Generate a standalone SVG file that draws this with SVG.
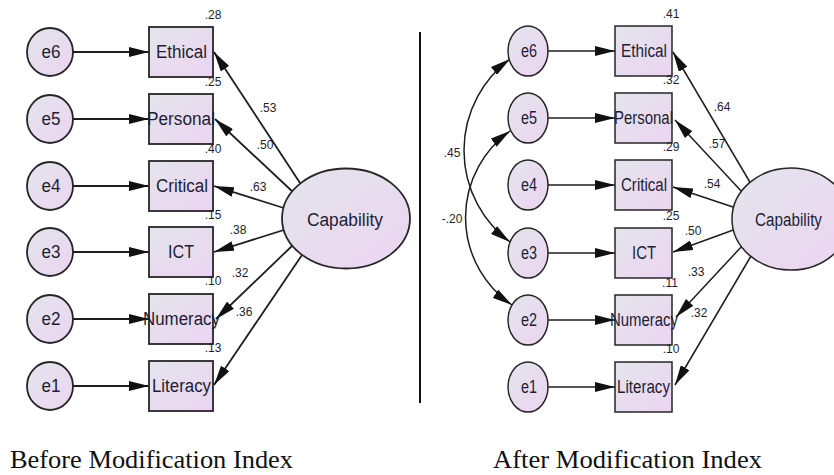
<svg xmlns="http://www.w3.org/2000/svg" width="834" height="475" viewBox="0 0 834 475">
<style>
.shape{stroke:#262626;stroke-width:1.8}
.fill{fill:url(#g)}
.lbl{font-family:"Liberation Sans",Arial,sans-serif;font-size:18px;fill:#1e1e34;text-anchor:middle}
.num{font-family:"Liberation Sans",Arial,sans-serif;font-size:12px;fill:#1e1e2e;text-anchor:middle}
.cap{font-family:"Liberation Serif","Times New Roman",serif;font-size:26px;fill:#111}
.con{stroke:#1e1e1e;stroke-width:1.8;fill:none}
.r{stroke-width:1.5}
.a{marker-end:url(#ah)}
.b{marker-start:url(#ah);marker-end:url(#ah)}
</style>
<defs>
<linearGradient id="g" x1="0" y1="0" x2="1" y2="1">
<stop offset="0" stop-color="#e3e5ec"/>
<stop offset="1" stop-color="#ecd4f1"/>
</linearGradient>
<marker id="ah" markerUnits="userSpaceOnUse" markerWidth="20" markerHeight="10" refX="20" refY="5" orient="auto-start-reverse">
<path d="M0,0 L20,5 L0,10 z" fill="#111"/>
</marker>
</defs>

<g id="connectors">
<!-- left: error arrows -->
<line class="con a" x1="73" y1="52" x2="149" y2="52"/>
<line class="con a" x1="73" y1="119" x2="149" y2="119"/>
<line class="con a" x1="73" y1="186" x2="149" y2="186"/>
<line class="con a" x1="73" y1="252" x2="149" y2="252"/>
<line class="con a" x1="73" y1="319" x2="149" y2="319"/>
<line class="con a" x1="73" y1="386" x2="149" y2="386"/>
<!-- left: loadings -->
<line class="con a" x1="302" y1="186" x2="214" y2="52"/>
<line class="con a" x1="294" y1="193" x2="215" y2="119"/>
<line class="con a" x1="287" y1="209" x2="214" y2="186"/>
<line class="con a" x1="287" y1="229" x2="214" y2="252"/>
<line class="con a" x1="293" y1="245" x2="216" y2="319"/>
<line class="con a" x1="302" y1="255" x2="214" y2="385"/>
<!-- right: error arrows -->
<line class="con r a" x1="548" y1="51" x2="615" y2="51"/>
<line class="con r a" x1="548" y1="118" x2="615" y2="118"/>
<line class="con r a" x1="548" y1="185" x2="615" y2="185"/>
<line class="con r a" x1="548" y1="253" x2="615" y2="253"/>
<line class="con r a" x1="548" y1="320" x2="615" y2="320"/>
<line class="con r a" x1="548" y1="387" x2="615" y2="387"/>
<!-- right: loadings -->
<line class="con r a" x1="751" y1="184" x2="673" y2="52"/>
<line class="con r a" x1="743" y1="193" x2="675" y2="120"/>
<line class="con r a" x1="736" y1="208" x2="673" y2="187"/>
<line class="con r a" x1="736" y1="229" x2="673" y2="252"/>
<line class="con r a" x1="743" y1="245" x2="676" y2="317"/>
<line class="con r a" x1="751" y1="256" x2="675" y2="385"/>
<!-- right: covariances -->
<path class="con r b" d="M510 59 A114 114 0 0 0 510 242"/>
<path class="con r b" d="M510 131 A106 106 0 0 0 512 305"/>
</g>

<line x1="420" y1="32" x2="420" y2="403" stroke="#111" stroke-width="2"/>

<!-- left nodes -->
<g id="L_e6"><ellipse class="shape fill" cx="50" cy="52" rx="23" ry="24"/><text class="lbl" x="51" y="58" textLength="19" lengthAdjust="spacingAndGlyphs">e6</text></g>
<g id="L_e5"><ellipse class="shape fill" cx="50" cy="119" rx="23" ry="24"/><text class="lbl" x="51" y="125" textLength="19" lengthAdjust="spacingAndGlyphs">e5</text></g>
<g id="L_e4"><ellipse class="shape fill" cx="50" cy="186" rx="23" ry="24"/><text class="lbl" x="51" y="192" textLength="19" lengthAdjust="spacingAndGlyphs">e4</text></g>
<g id="L_e3"><ellipse class="shape fill" cx="50" cy="252" rx="23" ry="24"/><text class="lbl" x="51" y="258" textLength="19" lengthAdjust="spacingAndGlyphs">e3</text></g>
<g id="L_e2"><ellipse class="shape fill" cx="50" cy="319" rx="23" ry="24"/><text class="lbl" x="51" y="325" textLength="19" lengthAdjust="spacingAndGlyphs">e2</text></g>
<g id="L_e1"><ellipse class="shape fill" cx="50" cy="386" rx="23" ry="24"/><text class="lbl" x="51" y="392" textLength="19" lengthAdjust="spacingAndGlyphs">e1</text></g>

<g id="L_Ethical"><rect class="shape fill" x="149" y="27" width="64" height="50"/><text class="lbl" x="181.5" y="58" textLength="51" lengthAdjust="spacingAndGlyphs">Ethical</text></g>
<g id="L_Personal"><rect class="shape fill" x="149" y="94" width="64" height="50"/><text class="lbl" x="181" y="125" textLength="68" lengthAdjust="spacingAndGlyphs">Personal</text></g>
<g id="L_Critical"><rect class="shape fill" x="149" y="161" width="64" height="50"/><text class="lbl" x="182" y="192" textLength="52" lengthAdjust="spacingAndGlyphs">Critical</text></g>
<g id="L_ICT"><rect class="shape fill" x="149" y="227" width="64" height="50"/><text class="lbl" x="181" y="258" textLength="26" lengthAdjust="spacingAndGlyphs">ICT</text></g>
<g id="L_Numeracy"><rect class="shape fill" x="149" y="294" width="64" height="50"/><text class="lbl" x="181.5" y="325" textLength="77" lengthAdjust="spacingAndGlyphs">Numeracy</text></g>
<g id="L_Literacy"><rect class="shape fill" x="149" y="361" width="64" height="50"/><text class="lbl" x="181.5" y="392" textLength="59" lengthAdjust="spacingAndGlyphs">Literacy</text></g>

<g id="L_Capability"><ellipse class="shape fill" cx="346" cy="218.5" rx="64" ry="50"/><text class="lbl" x="345" y="226" textLength="76" lengthAdjust="spacingAndGlyphs">Capability</text></g>

<!-- left numbers -->
<g id="L_numbers">
<text class="num" x="213" y="19">.28</text>
<text class="num" x="213" y="86">.25</text>
<text class="num" x="213" y="153">.40</text>
<text class="num" x="213" y="219">.15</text>
<text class="num" x="213" y="285">.10</text>
<text class="num" x="213" y="352">.13</text>
<text class="num" x="268" y="112">.53</text>
<text class="num" x="265" y="149">.50</text>
<text class="num" x="258" y="191">.63</text>
<text class="num" x="238" y="234">.38</text>
<text class="num" x="240" y="277">.32</text>
<text class="num" x="244" y="316">.36</text>
</g>

<!-- right nodes -->
<g id="R_e6"><ellipse class="shape r fill" cx="528" cy="51" rx="20" ry="25"/><text class="lbl" x="529" y="57" textLength="16" lengthAdjust="spacingAndGlyphs">e6</text></g>
<g id="R_e5"><ellipse class="shape r fill" cx="528" cy="118" rx="20" ry="25"/><text class="lbl" x="529" y="124" textLength="16" lengthAdjust="spacingAndGlyphs">e5</text></g>
<g id="R_e4"><ellipse class="shape r fill" cx="528" cy="185" rx="20" ry="25"/><text class="lbl" x="529" y="191" textLength="16" lengthAdjust="spacingAndGlyphs">e4</text></g>
<g id="R_e3"><ellipse class="shape r fill" cx="528" cy="253" rx="20" ry="25"/><text class="lbl" x="529" y="259" textLength="16" lengthAdjust="spacingAndGlyphs">e3</text></g>
<g id="R_e2"><ellipse class="shape r fill" cx="528" cy="320" rx="20" ry="25"/><text class="lbl" x="529" y="326" textLength="16" lengthAdjust="spacingAndGlyphs">e2</text></g>
<g id="R_e1"><ellipse class="shape r fill" cx="528" cy="387" rx="20" ry="25"/><text class="lbl" x="529" y="393" textLength="16" lengthAdjust="spacingAndGlyphs">e1</text></g>

<g id="R_Ethical"><rect class="shape r fill" x="615" y="26" width="57" height="50"/><text class="lbl" x="644" y="57" textLength="46" lengthAdjust="spacingAndGlyphs">Ethical</text></g>
<g id="R_Personal"><rect class="shape r fill" x="615" y="93" width="57" height="50"/><text class="lbl" x="643.5" y="124" textLength="59" lengthAdjust="spacingAndGlyphs">Personal</text></g>
<g id="R_Critical"><rect class="shape r fill" x="615" y="160" width="57" height="50"/><text class="lbl" x="644" y="191" textLength="46" lengthAdjust="spacingAndGlyphs">Critical</text></g>
<g id="R_ICT"><rect class="shape r fill" x="615" y="228" width="57" height="50"/><text class="lbl" x="644" y="259" textLength="24" lengthAdjust="spacingAndGlyphs">ICT</text></g>
<g id="R_Numeracy"><rect class="shape r fill" x="615" y="295" width="57" height="50"/><text class="lbl" x="644" y="326" textLength="68" lengthAdjust="spacingAndGlyphs">Numeracy</text></g>
<g id="R_Literacy"><rect class="shape r fill" x="615" y="362" width="57" height="50"/><text class="lbl" x="643.5" y="393" textLength="53" lengthAdjust="spacingAndGlyphs">Literacy</text></g>

<g id="R_Capability"><ellipse class="shape r fill" cx="791" cy="219" rx="59" ry="51"/><text class="lbl" x="788.5" y="226" textLength="67" lengthAdjust="spacingAndGlyphs">Capability</text></g>

<!-- right numbers -->
<g id="R_numbers">
<text class="num" x="671" y="18">.41</text>
<text class="num" x="671" y="84">.32</text>
<text class="num" x="671" y="151">.29</text>
<text class="num" x="671" y="220">.25</text>
<text class="num" x="670" y="287">.11</text>
<text class="num" x="671" y="353">.10</text>
<text class="num" x="722" y="111">.64</text>
<text class="num" x="717" y="148">.57</text>
<text class="num" x="712" y="188">.54</text>
<text class="num" x="693" y="235">.50</text>
<text class="num" x="696" y="276">.33</text>
<text class="num" x="699" y="317">.32</text>
<text class="num" x="452" y="157">.45</text>
<text class="num" x="452" y="223">-.20</text>
</g>

<text class="cap" x="10" y="468" textLength="283" lengthAdjust="spacingAndGlyphs">Before Modification Index</text>
<text class="cap" x="493" y="468" textLength="269" lengthAdjust="spacingAndGlyphs">After Modification Index</text>
</svg>
